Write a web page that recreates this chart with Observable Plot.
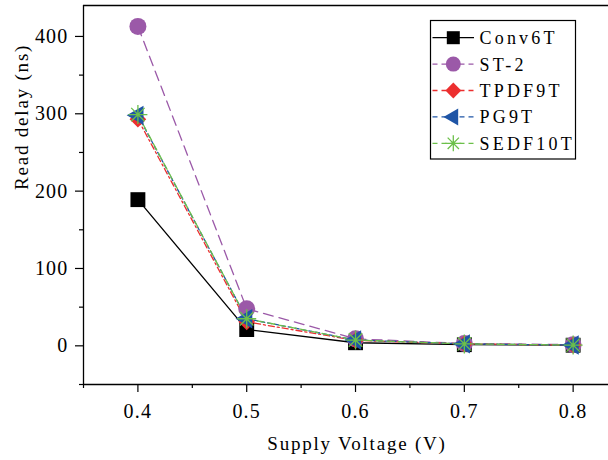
<!DOCTYPE html>
<html><head><meta charset="utf-8">
<script src="https://cdn.jsdelivr.net/npm/d3@7"></script>
<script src="https://cdn.jsdelivr.net/npm/@observablehq/plot@0.6"></script>
<style>
body{margin:0;background:#fff;}
#wrap{position:relative;width:608px;height:460px;}
#wrap svg text{letter-spacing:1.2px;}
#wrap svg g[aria-label="text"] text{letter-spacing:1.8px;}
#wrap #legend text{letter-spacing:3.2px;}
#legend{position:absolute;left:0;top:0;pointer-events:none;}
</style></head><body><div id="wrap"></div>
<script>
// ---- data ----
const voltages = [0.4, 0.5, 0.6, 0.7, 0.8];
const seriesNames = ["Conv6T", "ST-2", "TPDF9T", "PG9T", "SEDF10T"];
const conv6T  = [189, 21, 4, 1.5, 0.8];
const st2     = [413, 48, 9, 3, 1.5];
const tpdf9T  = [293, 31, 7, 2.5, 1];
const pg9T    = [298, 35, 7.5, 2.5, 1];
const sedf10T = [299, 35, 7.5, 2.5, 1];
const xTicks = [0.4, 0.5, 0.6, 0.7, 0.8];
const xMinorTicks = [0.35, 0.45, 0.55, 0.65, 0.75];
const yTicks = [0, 100, 200, 300, 400];
const yMinorTicks = [-50, 50, 150, 250, 350];
const xLabel = "Supply Voltage (V)";
const yLabel = "Read delay (ns)";

const seriesValues = [conv6T, st2, tpdf9T, pg9T, sedf10T];
const rows = seriesNames.flatMap((s, si) => voltages.map((v, i) => ({series: s, x: v, y: seriesValues[si][i]})));

// ---- styles ----
const asterisk8 = {draw(context, size) {
  const r = Math.sqrt(size / Math.PI), d = r * Math.SQRT1_2;
  context.moveTo(-r, 0); context.lineTo(r, 0);
  context.moveTo(0, -r); context.lineTo(0, r);
  context.moveTo(-d, -d); context.lineTo(d, d);
  context.moveTo(-d, d); context.lineTo(d, -d);
}};
const styles = {
  "Conv6T":  {color: "#000000", dash: null,      symbol: "square",   r: 8.4, rotate: 0,   filled: true},
  "ST-2":    {color: "#9b59a8", dash: "10,6",    symbol: "circle",   r: 8.5, rotate: 0,   filled: true},
  "TPDF9T":  {color: "#ec2f2f", dash: "6,3,2,3", symbol: "diamond2", r: 7.5, rotate: 0,   filled: true},
  "PG9T":    {color: "#1f55a6", dash: "4,3",     symbol: "triangle", r: 7.2, rotate: -90, filled: true},
  "SEDF10T": {color: "#6cc04a", dash: "7,4",     symbol: asterisk8,  r: 9.5, rotate: 0,   filled: false}
};

const marks = [];
for (const s of seriesNames) {
  const st = styles[s];
  marks.push(Plot.line(rows.filter(d => d.series === s), {x: "x", y: "y", stroke: st.color, strokeWidth: 1.3, strokeDasharray: st.dash}));
}
for (const s of seriesNames) {
  const st = styles[s];
  marks.push(Plot.dot(rows.filter(d => d.series === s), {
    x: "x", y: "y", symbol: () => st.symbol, r: st.r, rotate: st.rotate,
    fill: st.filled ? st.color : "none", stroke: st.filled ? "none" : st.color, strokeWidth: st.filled ? 0 : 1.3
  }));
}

const xDomain = [0.35, 0.8325];
const yDomain = [-50, 440];

const chart = Plot.plot({
  width: 608, height: 460,
  marginLeft: 83, marginRight: 0, marginTop: 5, marginBottom: 76,
  style: {fontFamily: "'Liberation Serif', serif", fontSize: "20px", color: "#000", background: "#fff"},
  x: {domain: xDomain, axis: null},
  y: {domain: yDomain, axis: null},
  marks: [
    Plot.axisX(xTicks, {anchor: "bottom", tickSize: 8, tickPadding: 11, tickFormat: d => d.toFixed(1), strokeWidth: 1.2, label: null, fontSize: 20}),
    Plot.axisX(xMinorTicks, {anchor: "bottom", tickSize: 4, tickFormat: () => "", strokeWidth: 1.2, label: null}),
    Plot.axisY(yTicks, {anchor: "left", tickSize: 8, tickPadding: 7, tickFormat: d => String(d), strokeWidth: 1.2, label: null, fontSize: 20}),
    Plot.axisY(yMinorTicks, {anchor: "left", tickSize: 4, tickFormat: () => "", strokeWidth: 1.2, label: null}),
    Plot.ruleY([yDomain[0]], {strokeWidth: 1.3}),
    Plot.ruleY([yDomain[1]], {strokeWidth: 1.3}),
    Plot.ruleX([xDomain[0]], {strokeWidth: 1.3}),
    ...marks,
    Plot.text([xLabel], {text: d => d, frameAnchor: "bottom", dx: 11, dy: 59, lineAnchor: "middle", fontSize: 19}),
    Plot.text([yLabel], {text: d => d, frameAnchor: "left", rotate: -90, dx: -62, dy: -5, lineAnchor: "middle", fontSize: 19})
  ]
});
const wrap = document.getElementById("wrap");
wrap.appendChild(chart);

// ---- legend (inside plot, top right) ----
const lg = d3.select(wrap).append("svg").attr("id", "legend").attr("width", 608).attr("height", 460);
lg.append("rect").attr("x", 430.5).attr("y", 20.5).attr("width", 145).attr("height", 138.5)
  .attr("fill", "#fff").attr("stroke", "#000").attr("stroke-width", 1.2);
const legendSizes = {"Conv6T": 169, "ST-2": 177, "TPDF9T": 160, "PG9T": 125, "SEDF10T": 200};
seriesNames.forEach((s, i) => {
  const st = styles[s];
  const cy = 37.7 + i * 26.4;
  lg.append("line").attr("x1", 432.5).attr("x2", 474).attr("y1", cy).attr("y2", cy)
    .attr("stroke", st.color).attr("stroke-width", 1.3).attr("stroke-dasharray", st.dash ? "5,4" : null);
  const symType = typeof st.symbol === "string" ? {square: d3.symbolSquare, circle: d3.symbolCircle, diamond2: d3.symbolDiamond2, triangle: d3.symbolTriangle}[st.symbol] : st.symbol;
  lg.append("path").attr("d", d3.symbol(symType, legendSizes[s])())
    .attr("transform", `translate(453.3,${cy}) rotate(${st.rotate})`)
    .attr("fill", st.filled ? st.color : "none").attr("stroke", st.filled ? "none" : st.color).attr("stroke-width", 1.3);
  lg.append("text").attr("x", 479.5).attr("y", cy).attr("dy", "0.36em")
    .attr("font-family", "'Liberation Serif', serif").attr("font-size", 18).attr("fill", "#000").text(s);
});
</script></body></html>
